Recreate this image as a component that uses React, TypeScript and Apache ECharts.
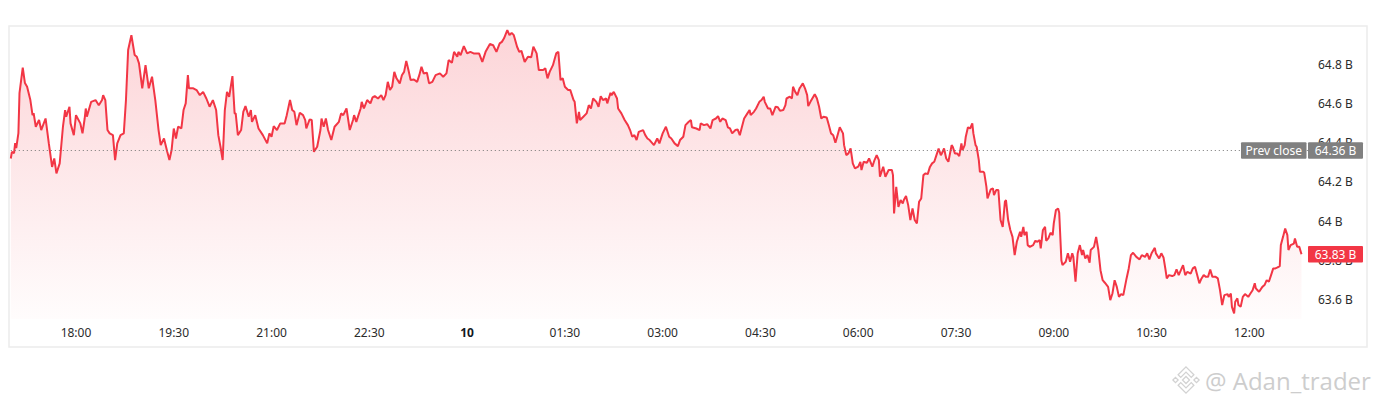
import React, { useEffect, useRef } from "react";
import * as echarts from "echarts";

// [minutes since 17:00 (day 9), market cap in billions]
const priceData: [number, number][] = [
  [0,64.319],[1,64.353],[3,64.346],[4,64.397],[5,64.372],[7,64.448],[8,64.652],[11,64.782],[13,64.704],[15,64.685],[18,64.617],[20,64.540],[21,64.550],[23,64.481],[26,64.515],[28,64.464],[32,64.523],[35,64.396],[38,64.276],[40,64.319],[42,64.243],[45,64.294],[48,64.481],[50,64.566],[51,64.532],[54,64.583],[55,64.498],[58,64.438],[60,64.540],[64,64.498],[66,64.447],[68,64.523],[69,64.574],[70,64.532],[74,64.608],[78,64.617],[81,64.591],[84,64.617],[85,64.642],[87,64.617],[89,64.464],[91,64.447],[94,64.438],[96,64.311],[98,64.396],[101,64.438],[104,64.447],[106,64.617],[108,64.872],[111,64.948],[114,64.847],[116,64.838],[118,64.804],[121,64.677],[124,64.795],[127,64.677],[130,64.736],[133,64.617],[136,64.464],[138,64.387],[141,64.421],[144,64.353],[146,64.311],[148,64.362],[150,64.472],[152,64.421],[154,64.481],[157,64.472],[159,64.566],[161,64.600],[163,64.744],[164,64.677],[168,64.677],[171,64.668],[174,64.642],[177,64.659],[180,64.625],[183,64.583],[186,64.617],[189,64.566],[191,64.438],[193,64.379],[195,64.311],
  [197,64.566],[199,64.659],[201,64.634],[204,64.739],[206,64.549],[207,64.549],[209,64.438],[212,64.464],[214,64.557],[216,64.586],[219,64.532],[221,64.566],[222,64.506],[225,64.540],[228,64.472],[232,64.438],[236,64.396],[238,64.447],[240,64.430],[242,64.484],[245,64.464],[248,64.498],[252,64.498],[254,64.540],[257,64.617],[259,64.566],[261,64.557],[263,64.489],[266,64.552],[269,64.540],[271,64.515],[272,64.472],[275,64.518],[277,64.515],[279,64.353],[282,64.379],[285,64.464],[286,64.523],[288,64.481],[290,64.523],[292,64.464],[295,64.413],[298,64.481],[302,64.506],[304,64.549],[306,64.540],[309,64.574],[312,64.464],[315,64.515],[316,64.540],[318,64.506],[322,64.574],[323,64.608],[325,64.574],[328,64.617],[331,64.600],[333,64.631],[335,64.637],[338,64.625],[341,64.642],[343,64.617],[345,64.642],[347,64.710],[349,64.668],[351,64.685],[353,64.761],[355,64.728],[358,64.702],[360,64.744],[362,64.761],[364,64.817],[366,64.770],[368,64.719],[371,64.722],[374,64.710],[376,64.744],[378,64.787],[380,64.753],[383,64.756],[385,64.702],[388,64.710],[391,64.744],[395,64.753],[398,64.736],[401,64.753],[403,64.821],
  [406,64.807],[408,64.863],[411,64.838],[412,64.863],[414,64.846],[417,64.892],[420,64.855],[423,64.863],[426,64.855],[431,64.855],[434,64.812],[437,64.863],[441,64.903],[444,64.897],[447,64.863],[450,64.906],[452,64.914],[454,64.932],[457,64.974],[459,64.948],[461,64.960],[463,64.948],[466,64.889],[468,64.863],[470,64.868],[473,64.812],[476,64.838],[479,64.835],[481,64.889],[484,64.855],[486,64.770],[490,64.770],[492,64.779],[494,64.728],[496,64.761],[499,64.795],[502,64.855],[504,64.863],[506,64.719],[508,64.728],[510,64.685],[513,64.668],[515,64.668],[518,64.617],[519,64.608],[521,64.498],[523,64.557],[524,64.515],[527,64.532],[530,64.549],[532,64.591],[534,64.574],[536,64.625],[539,64.608],[541,64.583],[543,64.637],[545,64.617],[548,64.625],[549,64.600],[552,64.654],[553,64.642],[555,64.659],[558,64.625],[559,64.574],[562,64.549],[565,64.515],[568,64.489],[570,64.464],[572,64.430],[574,64.438],[576,64.413],[578,64.455],[582,64.464],[584,64.438],[586,64.421],[588,64.413],[592,64.387],[595,64.421],[597,64.396],
  [600,64.447],[603,64.481],[606,64.430],[608,64.421],[611,64.396],[614,64.382],[616,64.413],[619,64.430],[621,64.489],[624,64.506],[626,64.515],[627,64.478],[631,64.472],[634,64.464],[635,64.498],[638,64.489],[641,64.494],[644,64.472],[646,64.515],[649,64.523],[651,64.535],[653,64.506],[655,64.523],[658,64.515],[660,64.478],[662,64.472],[664,64.447],[667,64.464],[669,64.467],[671,64.438],[673,64.481],[675,64.523],[678,64.549],[680,64.566],[681,64.540],[684,64.557],[686,64.574],[689,64.608],[691,64.617],[693,64.634],[694,64.608],[697,64.574],[699,64.574],[701,64.540],[704,64.583],[706,64.580],[708,64.562],[711,64.566],[713,64.591],[714,64.625],[717,64.634],[719,64.625],[720,64.685],[722,64.659],[724,64.642],[726,64.677],[727,64.685],[729,64.702],[731,64.677],[733,64.642],[734,64.586],[736,64.608],[740,64.647],[742,64.625],[744,64.583],[746,64.523],[748,64.532],[751,64.528],[753,64.489],[755,64.447],[757,64.438],[759,64.399],[761,64.438],[763,64.478],[766,64.447],[767,64.387],[769,64.336],[771,64.345],[773,64.370],[775,64.294],[777,64.268],[780,64.277],[782,64.302],[783,64.260],[785,64.302],[788,64.297],[790,64.319],[793,64.277],[795,64.311],[797,64.336],[799,64.311],[800,64.226],[803,64.277],[805,64.226],[808,64.260],
  [811,64.260],[812,64.234],[813,64.039],[815,64.174],[817,64.072],[819,64.107],[821,64.090],[822,64.107],[824,64.127],[826,64.081],[828,64.005],[830,64.064],[832,64.005],[834,63.988],[836,64.098],[838,64.115],[840,64.234],[842,64.243],[844,64.239],[846,64.276],[848,64.294],[850,64.302],[852,64.336],[854,64.370],[856,64.336],[857,64.345],[859,64.370],[861,64.319],[863,64.302],[866,64.387],[867,64.379],[869,64.345],[871,64.345],[873,64.331],[875,64.396],[876,64.362],[878,64.387],[879,64.430],[881,64.478],[883,64.472],[885,64.498],[886,64.447],[888,64.387],[889,64.379],[891,64.311],[892,64.251],[895,64.251],[896,64.246],[898,64.174],[899,64.115],[902,64.161],[904,64.166],[905,64.132],[907,64.158],[909,64.158],[911,64.005],[913,63.970],[915,64.098],[916,64.107],[918,64.005],[920,63.954],[922,63.919],[924,63.826],[926,63.894],[929,63.945],[930,63.919],[932,63.970],[933,63.928],[935,63.945],[936,63.877],[938,63.868],[941,63.877],[943,63.899],[945,63.894],[947,63.903],[948,63.860],[950,63.954],[952,63.970],[953,63.899],[955,63.911],[957,63.940],[959,63.928],[960,63.988],[962,64.056],[964,64.064],[965,64.042],[967,63.800],[968,63.775],[971,63.792],[973,63.835],[975,63.792],[977,63.835],[978,63.817],[980,63.690],[982,63.835],[984,63.877],[986,63.826],[987,63.852],[989,63.809],[991,63.826],[993,63.787],[994,63.852],[997,63.868],[999,63.919],[1001,63.852],[1003,63.749],[1005,63.698],
  [1007,63.685],[1010,63.664],[1012,63.596],[1014,63.630],[1016,63.698],[1018,63.664],[1020,63.613],[1022,63.627],[1024,63.622],[1027,63.707],[1029,63.758],[1031,63.826],[1033,63.838],[1036,63.817],[1039,63.804],[1041,63.826],[1044,63.817],[1046,63.835],[1048,63.804],[1050,63.835],[1053,63.863],[1054,63.835],[1057,63.809],[1059,63.835],[1061,63.814],[1063,63.746],[1064,63.707],[1066,63.724],[1069,63.719],[1071,63.724],[1073,63.753],[1075,63.724],[1077,63.749],[1079,63.775],[1081,63.724],[1083,63.741],[1086,63.732],[1088,63.758],[1090,63.766],[1092,63.724],[1094,63.682],[1096,63.707],[1098,63.724],[1100,63.715],[1102,63.715],[1104,63.753],[1106,63.715],[1109,63.715],[1111,63.707],[1113,63.647],[1115,63.571],[1117,63.622],[1120,63.627],[1121,63.613],[1123,63.630],[1124,63.562],[1126,63.528],[1127,63.588],[1129,63.605],[1130,63.571],[1132,63.562],[1134,63.613],[1136,63.627],[1139,63.613],[1141,63.630],[1143,63.647],[1145,63.682],[1146,63.656],[1148,63.644],[1149,63.639],[1152,63.664],[1154,63.673],[1156,63.698],[1158,63.690],[1160,63.724],[1162,63.758],[1164,63.758],[1166,63.763],[1168,63.770],[1169,63.877],[1171,63.919],[1173,63.962],[1175,63.928],[1176,63.852],[1178,63.877],[1181,63.885],[1182,63.911],[1184,63.868],[1186,63.868],[1188,63.83],
];

const prevClose = 64.36;
const lastPrice = 63.83;
const prevCloseLabel = "Prev close";
const prevCloseText = "64.36 B";
const lastPriceText = "63.83 B";

const xTickMinutes = [60, 150, 240, 330, 420, 510, 600, 690, 780, 870, 960, 1050, 1140];
const xTickLabels = ["18:00", "19:30", "21:00", "22:30", "10", "01:30", "03:00", "04:30", "06:00", "07:30", "09:00", "10:30", "12:00"];
const yTickValues = [63.6, 63.8, 64, 64.2, 64.4, 64.6, 64.8];
const yTickLabels = ["63.6 B", "63.8 B", "64 B", "64.2 B", "64.4 B", "64.6 B", "64.8 B"];

const watermarkText = "@ Adan_trader";

const FONT = "'Noto Sans', 'DejaVu Sans', sans-serif";
const RED = "#f23645";

export default function App() {
  const ref = useRef<HTMLDivElement>(null);

  useEffect(() => {
    document.body.style.margin = "0";
    const el = ref.current!;
    const chart = echarts.init(el, null, { renderer: "svg" });

    const gridLeft = 10.8;
    const gridTop = 25;
    const gridWidth = 1297.2;
    const gridHeight = 294;
    const gridRight = gridLeft + gridWidth;

    chart.setOption({
      animation: false,
      grid: {
        left: gridLeft,
        top: gridTop,
        width: gridWidth,
        height: gridHeight,
        containLabel: false,
        outerBoundsMode: "none",
      },
      xAxis: {
        type: "value",
        min: 0,
        max: 1194,
        axisLine: { show: false },
        axisTick: { show: false },
        splitLine: { show: false },
        axisLabel: {
          customValues: xTickMinutes,
          margin: 7,
          color: "#2b2b2b",
          fontSize: 12,
          fontFamily: FONT,
          formatter: (v: number) => {
            const i = xTickMinutes.indexOf(v);
            const t = i >= 0 ? xTickLabels[i] : "";
            return t === "10" ? "{b|10}" : t;
          },
          rich: {
            b: { fontWeight: "bold", fontSize: 12, color: "#131722", fontFamily: FONT },
          },
        },
      },
      yAxis: {
        type: "value",
        position: "right",
        min: 63.5,
        max: 65.0,
        scale: true,
        axisLine: { show: false },
        axisTick: { show: false },
        splitLine: { show: false },
        axisLabel: {
          customValues: yTickValues,
          margin: 10,
          color: "#2b2b2b",
          fontSize: 12,
          fontFamily: FONT,
          formatter: (v: number) => {
            const i = yTickValues.findIndex((t) => Math.abs(t - v) < 1e-6);
            return i >= 0 ? yTickLabels[i] : "";
          },
        },
      },
      series: [
        {
          type: "line",
          data: priceData,
          showSymbol: false,
          symbol: "none",
          lineStyle: { color: RED, width: 2 },
          itemStyle: { color: RED },
          areaStyle: {
            origin: "start",
            color: new echarts.graphic.LinearGradient(0, 0, 0, 1, [
              { offset: 0, color: "rgba(242,54,69,0.30)" },
              { offset: 1, color: "rgba(242,54,69,0.02)" },
            ]),
          },
          markLine: {
            silent: true,
            symbol: ["none", "none"],
            label: { show: false },
            lineStyle: { type: [1, 3], color: "#777777", width: 1 },
            emphasis: { disabled: true },
            data: [{ yAxis: prevClose }],
          },
        },
      ],
    });

    const yPrev = chart.convertToPixel({ yAxisIndex: 0 }, prevClose) as number;
    const yLast = chart.convertToPixel({ yAxisIndex: 0 }, lastPrice) as number;
    const boxH = 16.5;
    const valueBoxW = 55;
    const prevBoxW = 65.5;

    const logoCx = 1186;
    const logoCy = 380;
    const s = 0.875;
    const P = (pts: number[][]) => pts.map(([x, y]) => [logoCx + (x - 16) * s, logoCy + (y - 16) * s]);
    const logoStyle = { fill: "none", stroke: "#d2d2d2", lineWidth: 1.3 };

    chart.setOption({
      graphic: [
        {
          type: "rect",
          z: -10,
          shape: { x: 9, y: 26, width: 1358, height: 321 },
          style: { fill: "none", stroke: "#ececec", lineWidth: 1.5 },
          silent: true,
        },
        {
          type: "rect",
          z: 100,
          shape: { x: gridRight - prevBoxW - 1.5, y: yPrev - boxH / 2, width: prevBoxW, height: boxH, r: 1 },
          style: { fill: "#808080" },
        },
        {
          type: "text",
          z: 101,
          x: gridRight - prevBoxW / 2 - 1.5,
          y: yPrev,
          style: { text: prevCloseLabel, fill: "#ffffff", font: `12px ${FONT}`, align: "center", verticalAlign: "middle" },
        },
        {
          type: "rect",
          z: 100,
          shape: { x: gridRight, y: yPrev - boxH / 2, width: valueBoxW, height: boxH, r: 1 },
          style: { fill: "#808080" },
        },
        {
          type: "text",
          z: 101,
          x: gridRight + valueBoxW / 2,
          y: yPrev,
          style: { text: prevCloseText, fill: "#ffffff", font: `12px ${FONT}`, align: "center", verticalAlign: "middle" },
        },
        {
          type: "rect",
          z: 100,
          shape: { x: gridRight, y: yLast - boxH / 2, width: valueBoxW, height: boxH, r: 1 },
          style: { fill: RED },
        },
        {
          type: "text",
          z: 101,
          x: gridRight + valueBoxW / 2,
          y: yLast,
          style: { text: lastPriceText, fill: "#ffffff", font: `12px ${FONT}`, align: "center", verticalAlign: "middle" },
        },
        // watermark logo
        { type: "polygon", z: 50, shape: { points: P([[16, 12], [20, 16], [16, 20], [12, 16]]) }, style: logoStyle },
        { type: "polygon", z: 50, shape: { points: P([[4, 13], [7, 16], [4, 19], [1, 16]]) }, style: logoStyle },
        { type: "polygon", z: 50, shape: { points: P([[28, 13], [31, 16], [28, 19], [25, 16]]) }, style: logoStyle },
        { type: "polygon", z: 50, shape: { points: P([[16, 1], [25, 10], [22, 13], [16, 7], [10, 13], [7, 10]]) }, style: logoStyle },
        { type: "polygon", z: 50, shape: { points: P([[16, 31], [25, 22], [22, 19], [16, 25], [10, 19], [7, 22]]) }, style: logoStyle },
        {
          type: "text",
          z: 50,
          x: 1205,
          y: 380,
          style: {
            text: watermarkText,
            fill: "#cdcdcd",
            font: `24px 'Open Sans', 'Noto Sans', sans-serif`,
            align: "left",
            verticalAlign: "middle",
          },
        },
      ],
    });

    return () => chart.dispose();
  }, []);

  return <div ref={ref} style={{ width: 1378, height: 407 }} />;
}
